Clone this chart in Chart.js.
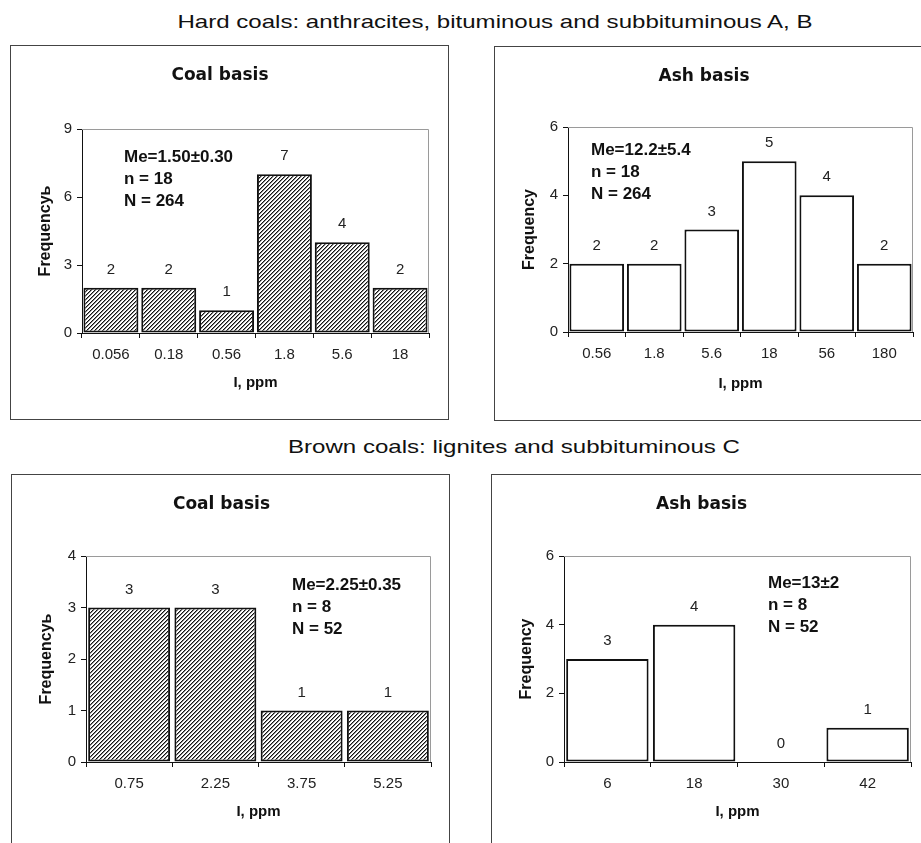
<!DOCTYPE html>
<html>
<head>
<meta charset="utf-8">
<title>Iodine in coals</title>
<script src="https://cdn.jsdelivr.net/npm/chart.js@4.4.1/dist/chart.umd.min.js"></script>
<style>
  body {
    margin: 0;
    width: 921px;
    height: 843px;
    overflow: hidden;
    position: relative;
    background: #fff;
    font-family: "Liberation Sans", Arial, sans-serif;
  }
  .heading {
    position: absolute;
    width: 800px;
    text-align: center;
    font-size: 18.5px;
    line-height: 18.5px;
    color: #111;
    white-space: nowrap;
    transform: scaleX(1.3);
  }
  .panel {
    position: absolute;
    border: 1px solid #444;
    background: #fff;
  }
  .panel canvas { display: block; }
</style>
</head>
<body>

<div class="heading" style="left:95px; top:13px">Hard coals: anthracites, bituminous and subbituminous A, B</div>
<div class="heading" style="left:114px; top:438px">Brown coals: lignites and subbituminous C</div>

<div class="panel" style="left:10px; top:45px"><canvas id="hardCoal" width="437" height="373"></canvas></div>
<div class="panel" style="left:494px; top:46px"><canvas id="hardAsh" width="440" height="373"></canvas></div>
<div class="panel" style="left:11px; top:474px"><canvas id="brownCoal" width="437" height="373"></canvas></div>
<div class="panel" style="left:491px; top:474px"><canvas id="brownAsh" width="440" height="373"></canvas></div>

<script>
// Histogram data: bin centres (ppm) and number of samples per bin
const hardCoalBins = ['0.056', '0.18', '0.56', '1.8', '5.6', '18'];
const hardCoalCounts = [2, 2, 1, 7, 4, 2];
const hardCoalStats = ['Me=1.50\u00b10.30', 'n = 18', 'N = 264'];

const hardAshBins = ['0.56', '1.8', '5.6', '18', '56', '180'];
const hardAshCounts = [2, 2, 3, 5, 4, 2];
const hardAshStats = ['Me=12.2\u00b15.4', 'n = 18', 'N = 264'];

const brownCoalBins = ['0.75', '2.25', '3.75', '5.25'];
const brownCoalCounts = [3, 3, 1, 1];
const brownCoalStats = ['Me=2.25\u00b10.35', 'n = 8', 'N = 52'];

const brownAshBins = ['6', '18', '30', '42'];
const brownAshCounts = [3, 4, 0, 1];
const brownAshStats = ['Me=13\u00b12', 'n = 8', 'N = 52'];

Chart.defaults.font.family = '"Liberation Sans", Arial, sans-serif';

// diagonal hatching used for the coal-basis bars
function hatch(ctx) {
  const tile = document.createElement('canvas');
  tile.width = tile.height = 4;
  const t = tile.getContext('2d');
  t.fillStyle = '#fff';
  t.fillRect(0, 0, 4, 4);
  t.fillStyle = '#111';
  for (let i = 0; i < 4; i++) t.fillRect(i, 3 - i, 1, 1);
  t.fillStyle = '#888';
  for (let i = 0; i < 4; i++) t.fillRect(i, (4 - i) % 4, 1, 1);
  return ctx.createPattern(tile, 'repeat');
}

// count printed above every bar
const barValues = {
  id: 'barValues',
  afterDatasetsDraw(chart) {
    const ctx = chart.ctx;
    const values = chart.data.datasets[0].data;
    ctx.save();
    ctx.font = '15px "Liberation Sans", Arial, sans-serif';
    ctx.fillStyle = '#222';
    ctx.textAlign = 'center';
    ctx.textBaseline = 'middle';
    chart.getDatasetMeta(0).data.forEach((bar, i) => {
      ctx.fillText(String(values[i]), bar.x, bar.y - 18);
    });
    ctx.restore();
  }
};

// thin grey frame on top and right of the plot area
const plotFrame = {
  id: 'plotFrame',
  beforeDatasetsDraw(chart) {
    const ctx = chart.ctx;
    const a = chart.chartArea;
    const l = Math.round(a.left), t = Math.round(a.top) + 0.5;
    const r = Math.round(a.right) - 0.5, b = Math.round(a.bottom);
    ctx.save();
    ctx.strokeStyle = '#9a9a9a';
    ctx.lineWidth = 1;
    ctx.beginPath();
    ctx.moveTo(l, t);
    ctx.lineTo(r, t);
    ctx.lineTo(r, b);
    ctx.stroke();
    ctx.restore();
  }
};

// median / sample counts block
const statsBox = {
  id: 'statsBox',
  afterDraw(chart, args, opts) {
    if (!opts.lines) return;
    const ctx = chart.ctx;
    const a = chart.chartArea;
    ctx.save();
    ctx.font = 'bold 17px "Liberation Sans", Arial, sans-serif';
    ctx.fillStyle = '#111';
    ctx.textAlign = 'left';
    ctx.textBaseline = 'middle';
    opts.lines.forEach((line, i) => {
      ctx.fillText(line, a.left + opts.dx, a.top + opts.dy + i * 22);
    });
    ctx.restore();
  }
};

function makePanel(id, cfg) {
  const canvas = document.getElementById(id);
  const ctx = canvas.getContext('2d');
  const W = canvas.width, H = canvas.height;
  const area = cfg.area;

  return new Chart(ctx, {
    type: 'bar',
    data: {
      labels: cfg.labels,
      datasets: [{
        data: cfg.counts,
        backgroundColor: cfg.hatched ? hatch(ctx) : '#fff',
        borderColor: '#111',
        borderWidth: 2,
        borderSkipped: false,
        barPercentage: 0.95,
        categoryPercentage: 1
      }]
    },
    options: {
      responsive: false,
      animation: false,
      devicePixelRatio: 1,
      layout: { padding: { left: 0, top: 0, right: W - area.right, bottom: 0 } },
      plugins: {
        legend: { display: false },
        tooltip: { enabled: false },
        title: {
          display: true,
          text: cfg.title,
          color: '#111',
          font: { family: '"DejaVu Sans", sans-serif', size: 17, weight: 'bold', lineHeight: 1.2 },
          padding: { top: 19, bottom: area.top - 19 - 20.4 }
        },
        statsBox: { lines: cfg.stats, dx: cfg.statsAt[0], dy: cfg.statsAt[1] }
      },
      scales: {
        x: {
          offset: true,
          grid: { offset: true, drawOnChartArea: false, drawTicks: true, tickLength: 5, color: '#111' },
          border: { color: '#111', width: 1 },
          ticks: { color: '#222', font: { size: 15 }, padding: 8, maxRotation: 0, autoSkip: false },
          title: {
            display: true,
            text: 'I, ppm',
            color: '#111',
            font: { size: 15, weight: 'bold' },
            padding: { top: 0, bottom: 27 }
          },
          afterFit(s) { s.height = H - area.bottom; }
        },
        y: {
          min: 0,
          max: cfg.yMax,
          grid: { drawOnChartArea: false, drawTicks: true, tickLength: 5, color: '#111' },
          border: { color: '#111', width: 1 },
          ticks: { stepSize: cfg.yStep, color: '#222', font: { size: 15 }, padding: 5 },
          title: {
            display: true,
            text: cfg.yTitle,
            color: '#111',
            font: { size: 16, weight: 'bold' },
            padding: { top: 25, bottom: 0 }
          },
          afterFit(s) { s.width = area.left; }
        }
      }
    },
    plugins: [plotFrame, barValues, statsBox]
  });
}

makePanel('hardCoal', {
  title: 'Coal basis', yTitle: 'Frequency\u044c',
  labels: hardCoalBins, counts: hardCoalCounts, stats: hardCoalStats,
  hatched: true, yMax: 9, yStep: 3,
  area: { left: 71, top: 83, right: 418, bottom: 287 }, statsAt: [42, 28]
});

makePanel('hardAsh', {
  title: 'Ash basis', yTitle: 'Frequency',
  labels: hardAshBins, counts: hardAshCounts, stats: hardAshStats,
  hatched: false, yMax: 6, yStep: 2,
  area: { left: 73, top: 80, right: 418, bottom: 285 }, statsAt: [23, 23]
});

makePanel('brownCoal', {
  title: 'Coal basis', yTitle: 'Frequency\u044c',
  labels: brownCoalBins, counts: brownCoalCounts, stats: brownCoalStats,
  hatched: true, yMax: 4, yStep: 1,
  area: { left: 74, top: 81, right: 419, bottom: 287 }, statsAt: [206, 29]
});

makePanel('brownAsh', {
  title: 'Ash basis', yTitle: 'Frequency',
  labels: brownAshBins, counts: brownAshCounts, stats: brownAshStats,
  hatched: false, yMax: 6, yStep: 2,
  area: { left: 72, top: 81, right: 419, bottom: 287 }, statsAt: [204, 27]
});
</script>
</body>
</html>
